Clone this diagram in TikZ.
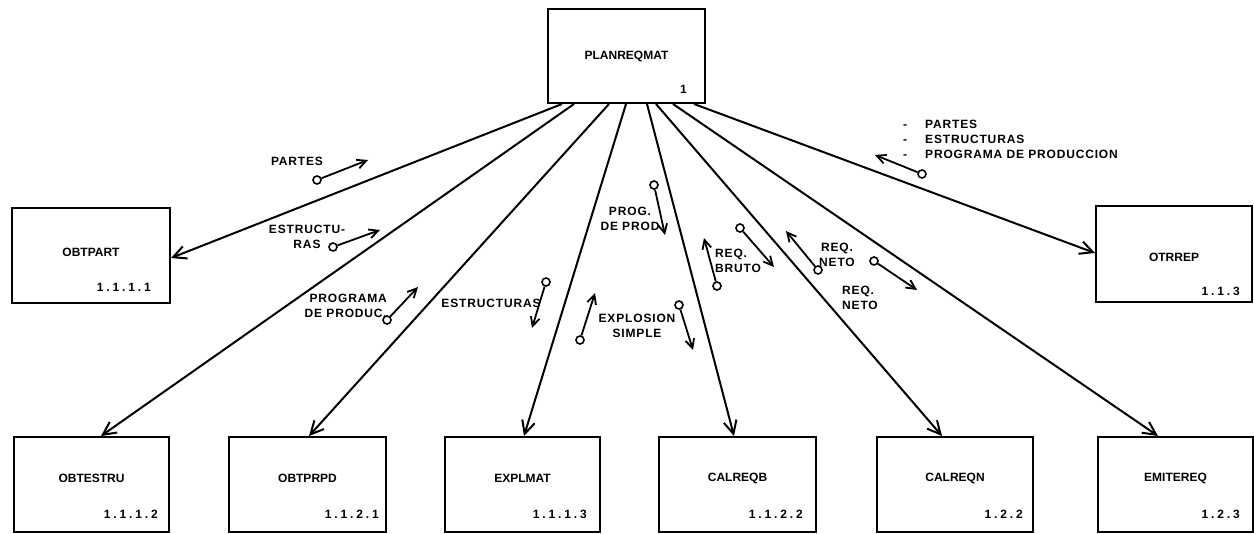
\documentclass[tikz,border=0pt]{standalone}
\usepackage{fontspec}
\setmainfont{Liberation Sans}
\newfontfamily\lblfont[LetterSpace=7]{Liberation Sans Bold}
\newfontfamily\boxfont{Liberation Sans Bold}
\newfontfamily\numfont[LetterSpace=24]{Liberation Sans Bold}
\usetikzlibrary{arrows.meta}
\newcommand{\dsh}{\makebox[22pt][l]{-}}
\begin{document}
\begin{tikzpicture}[x=1pt,y=-1pt,
  box/.style={draw,line width=2pt,minimum width=156pt,minimum height=95pt,inner sep=0pt},
  boxlbl/.style={inner sep=0pt,font=\boxfont\fontsize{12}{15}\selectfont},
  num/.style={anchor=base east,inner sep=0pt,font=\numfont\fontsize{12}{15}\selectfont},
  lbl/.style={inner sep=0pt,font=\lblfont\fontsize{12}{15}\selectfont},
  flow/.style={line width=2pt,-{Straight Barb[length=13pt,width=13pt,line width=2pt]}},
  dflow/.style={line width=1.8pt,-{Straight Barb[length=9pt,width=9pt,line width=1.8pt]}},
  tail/.style={draw,circle,line width=1.6pt,inner sep=0pt,minimum size=8pt,fill=white},
]
\useasboundingbox (0,0) rectangle (1254,534);

% boxes
\node[box,minimum width=157pt,minimum height=94pt] (top) at (626.5,56) {};
\node[box,minimum width=158pt] (obtpart) at (91,255.5) {};
\node[box,minimum height=96pt] (otrrep) at (1174,254) {};
\node[box,minimum width=155pt] (obtestru) at (91.5,484.5) {};
\node[box,minimum width=157pt] (obtprpd) at (307.5,484.5) {};
\node[box,minimum width=155pt] (explmat) at (522.5,484.5) {};
\node[box,minimum width=157pt] (calreqb) at (737.5,484.5) {};
\node[box,minimum width=156pt] (calreqn) at (955,484.5) {};
\node[box,minimum width=155pt] (emitereq) at (1175.5,484.5) {};

% box names
\node[boxlbl] (ttop) at (top.center) {PLANREQMAT};
\node[boxlbl] (tobtpart) at ([yshift=3.5pt]obtpart.center) {OBTPART};
\node[boxlbl] (totrrep) at ([yshift=-3pt]otrrep.center) {OTRREP};
\node[boxlbl] (tobtestru) at ([yshift=6pt]obtestru.center) {OBTESTRU};
\node[boxlbl] (tobtprpd) at ([yshift=6pt]obtprpd.center) {OBTPRPD};
\node[boxlbl] (texplmat) at ([yshift=6pt]explmat.center) {EXPLMAT};
\node[boxlbl] (tcalreqb) at ([yshift=6pt]calreqb.center) {CALREQB};
\node[boxlbl] (tcalreqn) at ([yshift=6pt]calreqn.center) {CALREQN};
\node[boxlbl] (temitereq) at ([yshift=6pt]emitereq.center) {EMITEREQ};

% numbers
\node[num] (ntop) at ([xshift=-19pt,yshift=10pt]top.south east) {1};
\node[num] (nobtpart) at ([xshift=-20pt,yshift=12pt]obtpart.south east) {1.1.1.1};
\node[num] (notrrep) at ([xshift=-13pt,yshift=7pt]otrrep.south east) {1.1.3};
\node[num] (nobtestru) at ([xshift=-12pt,yshift=14pt]obtestru.south east) {1.1.1.2};
\node[num] (nobtprpd) at ([xshift=-8pt,yshift=14pt]obtprpd.south east) {1.1.2.1};
\node[num] (nexplmat) at ([xshift=-14pt,yshift=14pt]explmat.south east) {1.1.1.3};
\node[num] (ncalreqb) at ([xshift=-14pt,yshift=14pt]calreqb.south east) {1.1.2.2};
\node[num] (ncalreqn) at ([xshift=-11pt,yshift=14pt]calreqn.south east) {1.2.2};
\node[num] (nemitereq) at ([xshift=-14pt,yshift=14pt]emitereq.south east) {1.2.3};

% main connectors
\draw[flow] ([xshift=15pt]top.south west) -- ([yshift=-2.5pt]obtpart.east);
\draw[flow] ([xshift=27pt]top.south west) -- ([xshift=88pt]obtestru.north west);
\draw[flow] ([xshift=62pt]top.south west) -- ([xshift=81pt]obtprpd.north west);
\draw[flow] ([xshift=79pt]top.south west) -- ([xshift=80pt]explmat.north west);
\draw[flow] ([xshift=100pt]top.south west) -- ([xshift=76pt]calreqb.north west);
\draw[flow] ([xshift=109pt]top.south west) -- ([xshift=66pt]calreqn.north west);
\draw[flow] ([xshift=126pt]top.south west) -- ([xshift=61pt]emitereq.north west);
\draw[flow] ([xshift=147pt]top.south west) -- ([yshift=1pt]otrrep.west);

% data flow labels
\node[lbl] (l1) at (297,161) {PARTES};
\node[lbl,align=center] (l2) at (307,237) {ESTRUCTU-\\RAS};
\node[lbl,align=right,anchor=east] (l3) at (387,306) {PROGRAMA\\DE PRODUC.};
\node[lbl] (l4) at (491,303) {ESTRUCTURAS};
\node[lbl,align=center] (l5) at (630,219) {PROG.\\DE PROD};
\node[lbl,align=center] (l6) at (637,326) {EXPLOSION\\SIMPLE};
\node[lbl,align=left,anchor=west] (l7) at (715,261) {REQ.\\BRUTO};
\node[lbl,align=center] (l8) at (837,255) {REQ.\\NETO};
\node[lbl,align=left,anchor=west] (l9) at (842,298) {REQ.\\NETO};
\node[lbl,align=left,anchor=west] (l10) at (903,139) {\dsh PARTES\\\dsh ESTRUCTURAS\\\dsh PROGRAMA DE PRODUCCION};

% data flow arrows (circle tail -> head)
\node[tail] (t1) at (317,180) {};   \coordinate (h1) at (368,160);
\node[tail] (t2) at (333,247) {};   \coordinate (h2) at (380,230);
\node[tail] (t3) at (387,320) {};   \coordinate (h3) at (418,287);
\node[tail] (t4) at (546,282) {};   \coordinate (h4) at (532,328);
\node[tail] (t5) at (654,185) {};   \coordinate (h5) at (665,235);
\node[tail] (t6) at (580,340) {};   \coordinate (h6) at (595,293);
\node[tail] (t7) at (679,305) {};   \coordinate (h7) at (693,350);
\node[tail] (t8) at (717,286) {};   \coordinate (h8) at (704,238);
\node[tail] (t9) at (740,228) {};   \coordinate (h9) at (774,267);
\node[tail] (t10) at (818,270) {};  \coordinate (h10) at (786,231);
\node[tail] (t11) at (874,261) {};  \coordinate (h11) at (917,290);
\node[tail] (t12) at (922,174) {};  \coordinate (h12) at (875,155);
\foreach \i in {1,...,12} { \draw[dflow] (t\i) -- (h\i); }
\end{tikzpicture}
\end{document}
